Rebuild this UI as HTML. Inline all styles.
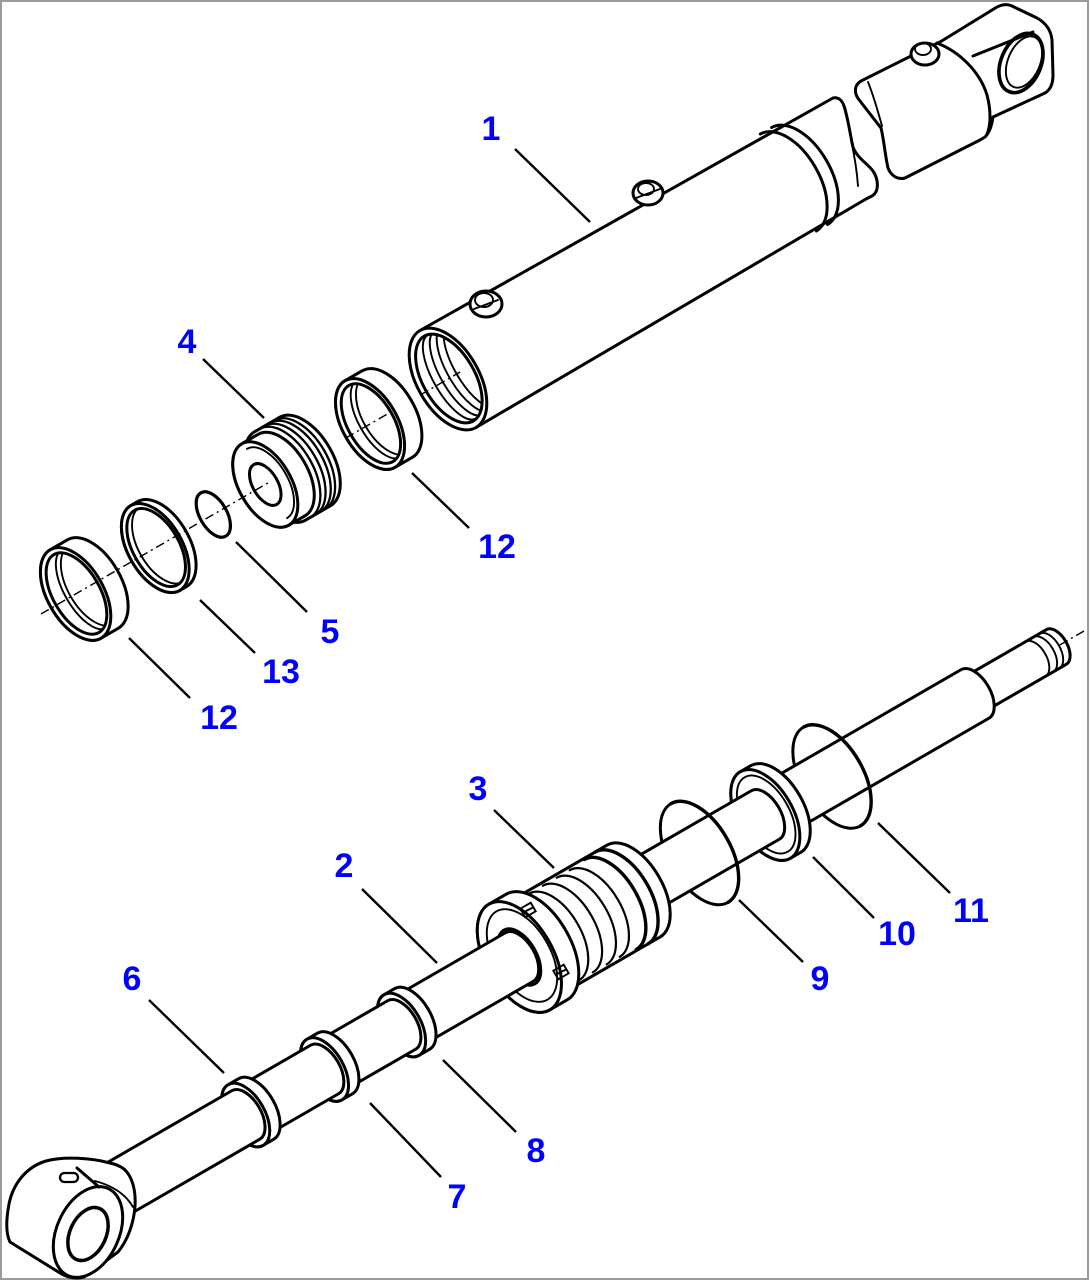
<!DOCTYPE html>
<html><head><meta charset="utf-8"><style>
html,body{margin:0;padding:0;background:#fff;}
svg{display:block}
.s{fill:#fff;stroke:#000;stroke-width:3;stroke-linejoin:round;stroke-linecap:round}
.n{fill:none;stroke:#000;stroke-width:3;stroke-linejoin:round;stroke-linecap:round}
.t{fill:none;stroke:#000;stroke-width:1.9;stroke-linecap:round}
.d{fill:none;stroke:#000;stroke-width:1.4;stroke-dasharray:9 4 2 4}
.l{stroke:#000;stroke-width:2.4;stroke-linecap:butt}
text{font-family:"Liberation Sans",Arial,sans-serif;font-weight:bold;font-size:34px;fill:#0000ff;text-anchor:middle}
</style></head><body>
<svg width="1090" height="1281" viewBox="0 0 1090 1281" xmlns="http://www.w3.org/2000/svg">
<defs>
<clipPath id="cb"><ellipse cx="1" cy="0" rx="25" ry="48"/></clipPath>
<clipPath id="c12u"><ellipse cx="-89" cy="0" rx="22" ry="43"/></clipPath>
<clipPath id="c13"><ellipse cx="-337" cy="0" rx="22" ry="42"/></clipPath>
<clipPath id="c12l"><ellipse cx="-429" cy="0" rx="22.5" ry="44"/></clipPath>
</defs>
<rect x="0" y="0" width="1090" height="1281" fill="#fff"/>
<rect x="1" y="1" width="1087" height="1278" fill="none" stroke="#9a9a9a" stroke-width="2"/>

<!-- ===== Part 1: tube body (global) ===== -->
<path class="s" d="M420,330.5 L833,98 C838,97 842,100 844,106 C848,118 850,134 853,147 C857,158 867,163 873,171 C879,180 879,192 872,196 L866,199 L476,427.5 Z"/>
<path class="t" d="M851,140 C855,158 857,172 858,186"/>

<!-- bosses on tube -->
<ellipse class="s" cx="486" cy="304" rx="16" ry="13"/>
<ellipse class="t" cx="484" cy="300" rx="9" ry="7"/>
<path class="t" d="M474,309 L498,300"/>
<ellipse class="s" cx="648" cy="193" rx="15" ry="12"/>
<ellipse class="t" cx="646" cy="189" rx="8" ry="6"/>
<path class="t" d="M636,198 L660,189"/>

<!-- head / clevis -->
<path class="s" d="M863,80 L913,55 L940,42 L997,7 C1003,4 1008,4 1012,6 L1037,18 C1046,23 1051,30 1052,40 L1053,75 C1053,84 1050,90 1045,93 L993,117 C992,125 990,132 985,137 L980,140 L905,178 C898,180 891,176 888,168 C885,155 884,140 881,128 L860,101 C853,93 854,84 863,80 Z"/>
<path class="n" d="M937,43 C960,52 980,72 987,95 C991,110 991,125 987,134"/>
<path class="n" d="M973,56 L1033,32"/>
<path class="t" d="M868,82 C872,92 876,104 882,126"/>
<ellipse class="n" style="stroke-width:3.6" cx="1021" cy="63" rx="20" ry="31" transform="rotate(23 1021 63)"/>
<ellipse class="t" cx="1024" cy="62" rx="16" ry="27" transform="rotate(23 1024 62)"/>
<ellipse class="s" cx="925" cy="54" rx="14" ry="11"/>
<ellipse class="t" cx="923" cy="49" rx="8" ry="6"/>

<!-- ===== Tube-axis group ===== -->
<g transform="translate(448,379) rotate(-30)">
  <path class="n" d="M393,-56 A31,56 0 0 1 393,56 M406,-56 A31,56 0 0 1 406,56"/>
  <ellipse class="s" cx="0" cy="0" rx="31" ry="56"/>
  <ellipse class="n" cx="1" cy="0" rx="26" ry="49"/>
  <g clip-path="url(#cb)">
    <path class="t" d="M4,-48 A18,48 0 0 0 4,48 M12,-48 A18,48 0 0 0 12,48 M20,-48 A18,48 0 0 0 20,48 M28,-48 A18,48 0 0 0 28,48"/>
  </g>
  <path class="d" d="M-32,0 L14,0"/>

  <!-- 12 upper -->
  <path class="s" d="M-90,-50 A27.5,50 0 0 0 -90,50 L-70,50 A27.5,50 0 0 0 -70,-50 Z"/>
  <ellipse class="s" cx="-90" cy="0" rx="27.5" ry="50"/>
  <ellipse class="n" cx="-89" cy="0" rx="23" ry="44"/>
  <g clip-path="url(#c12u)">
    <ellipse class="t" cx="-72" cy="0" rx="23" ry="44"/>
    <path class="t" d="M-80,-44 A20,44 0 0 0 -80,44"/>
  </g>
  <path class="d" d="M-118,0 L-62,0"/>

  <!-- 4 -->
  <path class="s" d="M-194,-51 A28,51 0 0 0 -194,51 L-165,51 A28,51 0 0 0 -165,-51 Z"/>
  <path class="n" style="stroke-width:2.3" d="M-188,-51 A28,51 0 0 1 -188,51 M-182,-51 A28,51 0 0 1 -182,51 M-176,-51 A28,51 0 0 1 -176,51 M-171,-51 A28,51 0 0 1 -171,51"/>
  <path class="s" d="M-211,-47 A26,47 0 0 0 -211,47 L-192,47 A26,47 0 0 0 -192,-47 Z"/>
  <ellipse class="s" cx="-211" cy="0" rx="26" ry="47"/>
  <path class="t" d="M-209,-40 A21,40 0 0 1 -209,40"/>
  <ellipse class="n" cx="-211" cy="0" rx="12.5" ry="23"/>

  <!-- 5 -->
  <ellipse class="n" style="stroke-width:3.2" cx="-271" cy="0" rx="13.5" ry="25"/>

  <!-- 13 -->
  <path class="s" d="M-338,-49 A27,49 0 0 0 -338,49 L-330,49 A27,49 0 0 0 -330,-49 Z"/>
  <ellipse class="s" cx="-338" cy="0" rx="27" ry="49"/>
  <ellipse class="n" cx="-337" cy="0" rx="23" ry="43"/>
  <g clip-path="url(#c13)"><ellipse class="t" cx="-331" cy="0" rx="23" ry="43"/></g>

  <!-- 12 lower -->
  <path class="s" d="M-430,-51 A28,51 0 0 0 -430,51 L-410,51 A28,51 0 0 0 -410,-51 Z"/>
  <ellipse class="s" cx="-430" cy="0" rx="28" ry="51"/>
  <ellipse class="n" cx="-429" cy="0" rx="23.5" ry="45"/>
  <g clip-path="url(#c12l)">
    <ellipse class="t" cx="-412" cy="0" rx="23.5" ry="45"/>
    <path class="t" d="M-420,-45 A20,45 0 0 0 -420,45"/>
  </g>

  <path class="d" d="M-470,0 L-205,0"/>
</g>

<!-- ===== Rod-axis group ===== -->
<g transform="translate(121,1187) rotate(-30)">
  <!-- threaded end -->
  <path class="s" d="M980,-20 L1080,-20 A11,20 0 0 1 1080,20 L980,20 Z"/>
  <path class="t" d="M1056,-20 A11,20 0 0 1 1056,20 M1065,-20 A11,20 0 0 1 1065,20 M1072,-20 A11,20 0 0 1 1072,20"/>
  <path class="d" d="M1084,0 L1116,0"/>
  <!-- ring 11 far -->
  <path class="n" d="M821,-57 A31,57 0 0 0 821,57"/>
  <path class="s" d="M750,-28 L986,-28 A15.4,28 0 0 1 986,28 L750,28 Z"/>
  <path class="n" style="stroke-width:3.4" d="M821,-57 A31,57 0 0 1 821,57"/>
  <!-- ring 10 -->
  <path class="s" d="M744,-50 A27.5,50 0 0 0 744,50 L756,50 A27.5,50 0 0 0 756,-50 Z"/>
  <ellipse class="s" cx="744" cy="0" rx="27.5" ry="50"/>
  <ellipse class="t" cx="745" cy="0" rx="23" ry="43"/>
  <!-- ring 9 far -->
  <path class="n" d="M668,-57 A31,57 0 0 0 668,57"/>
  <path class="s" d="M585,-28 L744,-28 A15.4,28 0 0 1 744,28 L585,28 Z"/>
  <path class="n" style="stroke-width:3.4" d="M668,-57 A31,57 0 0 1 668,57"/>
  <!-- piston 3 -->
  <path class="s" d="M478,-53 A29,53 0 0 0 478,53 L592,53 A29,53 0 0 0 592,-53 Z"/>
  <path class="n" style="stroke-width:2.2" d="M500,-50 A27,50 0 0 1 500,50 M516,-50 A27,50 0 0 1 516,50 M532,-50 A27,50 0 0 1 532,50 M547,-50 A27,50 0 0 1 547,50"/>
  <path class="n" style="stroke-width:3.4" d="M565,-52 A28,52 0 0 1 565,52 M578,-53 A29,53 0 0 1 578,53"/>
  <path class="s" d="M460,-61 A33.5,61 0 0 0 460,61 L480,61 A33.5,61 0 0 0 480,-61 Z"/>
  <ellipse class="s" cx="460" cy="0" rx="33.5" ry="61"/>
  <ellipse class="t" cx="463" cy="0" rx="28" ry="51"/>
  <ellipse class="s" cx="460" cy="0" rx="17" ry="31"/>
  <path class="s" d="M330,-28 L460,-28 A15.4,28 0 0 1 460,28 L330,28 Z"/>
  <!-- ring 8 -->
  <path class="s" d="M324,-35 A19,35 0 0 0 324,35 L336,35 A19,35 0 0 0 336,-35 Z"/>
  <ellipse class="s" cx="324" cy="0" rx="19" ry="35"/>
  <path class="s" d="M237,-28 L324,-28 A15.4,28 0 0 1 324,28 L237,28 Z"/>
  <!-- ring 7 -->
  <path class="s" d="M235,-35 A19,35 0 0 0 235,35 L247,35 A19,35 0 0 0 247,-35 Z"/>
  <ellipse class="s" cx="235" cy="0" rx="19" ry="35"/>
  <path class="s" d="M148,-28 L235,-28 A15.4,28 0 0 1 235,28 L148,28 Z"/>
  <!-- ring 6 -->
  <path class="s" d="M144,-35 A19,35 0 0 0 144,35 L156,35 A19,35 0 0 0 156,-35 Z"/>
  <ellipse class="s" cx="144" cy="0" rx="19" ry="35"/>
  <path class="s" d="M-5,-28 L144,-28 A15.4,28 0 0 1 144,28 L-5,28 Z"/>
</g>

<!-- piston notches -->
<rect x="522" y="905" width="12" height="10" class="t" transform="rotate(-30 528 910)"/>
<path class="t" d="M524,912 L532,908"/>
<rect x="555" y="967" width="12" height="10" class="t" transform="rotate(-30 561 972)"/>
<path class="t" d="M557,974 L565,970"/>

<!-- rod eye -->
<path class="s" d="M110,1163 C92,1158 64,1156 46,1161 C26,1167 13,1184 9,1204 C6,1220 6,1234 10,1242 L60,1273 C68,1278 77,1279 84,1277 L118,1252 C128,1240 134,1222 135,1206 C136,1190 132,1176 124,1169 C120,1166 115,1164 110,1163 Z"/>
<ellipse class="s" cx="88" cy="1232" rx="31" ry="48" transform="rotate(25 88 1232)"/>
<ellipse class="n" style="stroke-width:3.5" cx="88" cy="1234" rx="18" ry="28" transform="rotate(25 88 1234)"/>
<path class="n" d="M77,1168 L99,1187"/>
<path class="t" d="M95,1181 C110,1185 125,1193 133,1207"/>
<rect x="60" y="1173" width="18" height="9" rx="4.5" class="n" style="stroke-width:2.3"/>

<!-- leader lines -->
<line class="l" x1="515" y1="149" x2="590" y2="222"/>
<line class="l" x1="203" y1="359" x2="264" y2="418"/>
<line class="l" x1="412" y1="473" x2="469" y2="528"/>
<line class="l" x1="236" y1="542" x2="307" y2="612"/>
<line class="l" x1="200" y1="600" x2="255" y2="653"/>
<line class="l" x1="129" y1="638" x2="190" y2="698"/>
<line class="l" x1="494" y1="810" x2="554" y2="868"/>
<line class="l" x1="362" y1="889" x2="437" y2="963"/>
<line class="l" x1="149" y1="1000" x2="224" y2="1073"/>
<line class="l" x1="370" y1="1103" x2="441" y2="1177"/>
<line class="l" x1="443" y1="1060" x2="516" y2="1132"/>
<line class="l" x1="739" y1="900" x2="803" y2="962"/>
<line class="l" x1="813" y1="857" x2="874" y2="918"/>
<line class="l" x1="878" y1="823" x2="950" y2="893"/>

<!-- labels -->
<text x="491" y="140">1</text>
<text x="187" y="353">4</text>
<text x="497" y="558">12</text>
<text x="330" y="643">5</text>
<text x="281" y="683">13</text>
<text x="219" y="729">12</text>
<text x="478" y="800">3</text>
<text x="344" y="877">2</text>
<text x="132" y="990">6</text>
<text x="820" y="990">9</text>
<text x="897" y="945">10</text>
<text x="971" y="922">11</text>
<text x="457" y="1208">7</text>
<text x="536" y="1162">8</text>
</svg>
</body></html>
